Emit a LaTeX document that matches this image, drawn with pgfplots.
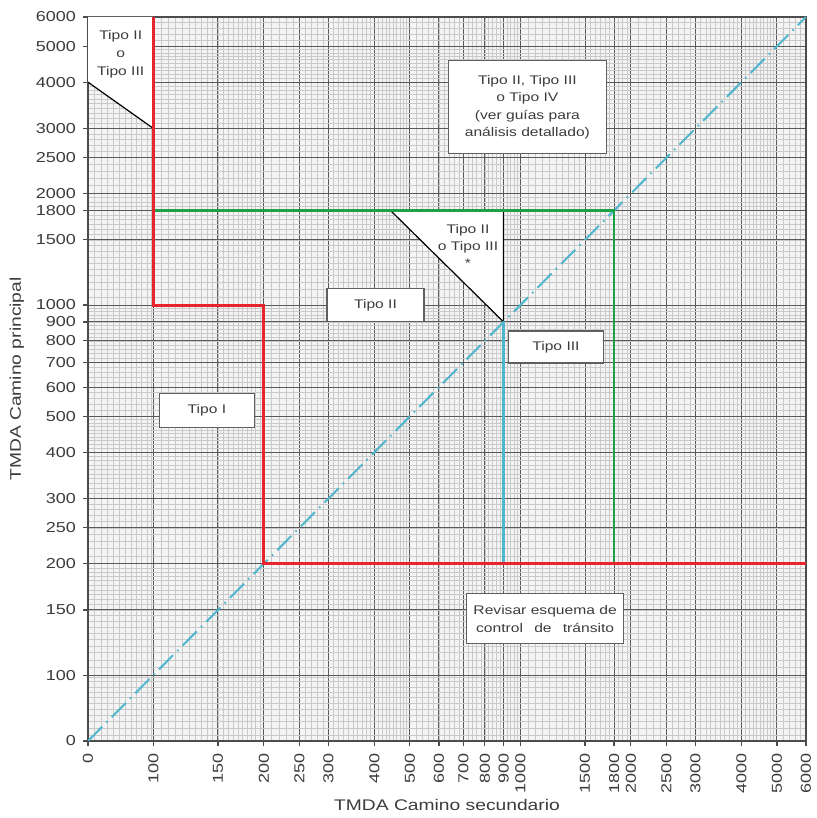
\documentclass[border=0pt]{standalone}
\usepackage{fontspec}
\setmainfont[FakeStretch=1.25]{Liberation Sans}
\usepackage{pgfplots}
\pgfplotsset{compat=1.18}
\definecolor{rl}{RGB}{232,36,44}
\definecolor{gl}{RGB}{30,160,70}
\definecolor{cl}{RGB}{80,182,205}
\definecolor{bx}{RGB}{95,95,95}
\definecolor{tx}{RGB}{60,60,60}
\begin{document}
\begin{tikzpicture}[box/.style={draw=bx, line width=0.6pt, fill=white, inner sep=2pt, align=center, text=tx, font=\fontsize{6.25}{8.75}\selectfont}]
\begin{axis}[name=ax, xmode=log, ymode=log, scale only axis, width=359pt, height=362pt,
 xmin=66.4, xmax=6000, ymin=66.4, ymax=6000,
 /pgf/number format/assume math mode=true,
 xtick={66.4,100,150,200,250,300,400,500,600,700,800,900,1000,1500,1800,2000,2500,3000,4000,5000,6000},
 xticklabels={0,100,150,200,250,300,400,500,600,700,800,900,1000,1500,1800,2000,2500,3000,4000,5000,6000},
 ytick={66.4,100,150,200,250,300,400,500,600,700,800,900,1000,1500,1800,2000,2500,3000,4000,5000,6000},
 yticklabels={0,100,150,200,250,300,400,500,600,700,800,900,1000,1500,1800,2000,2500,3000,4000,5000,6000},
 minor xtick={69,72,...,99,105,110,...,195,210,220,...,490,520,540,...,980,1050,1100,...,1950,2100,2200,...,4900,5200,5400,5600,5800},
 minor ytick={69,72,...,99,105,110,...,195,210,220,...,490,520,540,...,980,1050,1100,...,1950,2100,2200,...,4900,5200,5400,5600,5800},
 grid=both,
 major grid style={gray!70!black, line width=0.5pt},
 minor grid style={gray!42, line width=0.25pt},
 axis background/.style={fill=gray!9},
 axis line style={gray!60!black, line width=1pt},
 tick style={gray!60!black, line width=0.6pt},
 major tick length=2.5pt, minor tick length=0pt,
 tick align=outside, xtick pos=left, ytick pos=left,
 xticklabel style={rotate=90, anchor=east, text=tx, font=\fontsize{7.2}{8}\selectfont},
 yticklabel style={text=tx, font=\fontsize{7.2}{8}\selectfont},
 xlabel={TMDA Camino secundario}, ylabel={TMDA Camino principal},
 label style={font=\fontsize{7.7}{9}\selectfont, text=tx},
 xlabel style={at={(axis description cs:0.5,-0.0884)}, anchor=center},
 ylabel style={at={(axis description cs:-0.099,0.5)}, anchor=center},
]
\addplot[fill=white, draw=none] coordinates {(66.4,4000) (100,3000) (100,6000) (66.4,6000)} --cycle;
\addplot[black, line width=0.6pt] coordinates {(66.4,4000) (100,3000)};
\addplot[fill=white, draw=none] coordinates {(443,1800) (900,1800) (900,900)} --cycle;
\addplot[black, line width=0.6pt] coordinates {(443,1800) (900,900) (900,1800)};
\addplot[cl, line width=1pt, dash pattern=on 10pt off 3pt on 0.8pt off 3pt] coordinates {(66.4,66.4) (6000,6000)};
\addplot[cl, line width=1.3pt] coordinates {(900,900) (900,200)};
\addplot[gl, line width=1.4pt] coordinates {(100,1800) (1800,1800) (1800,200)};
\addplot[rl, line width=1.5pt] coordinates {(100,6000) (100,1000) (200,1000) (200,200) (6000,200)};
\node[box, minimum width=47.5pt, minimum height=17pt] at (axis cs:140,518) {Tipo I};
\node[box, minimum width=48.5pt, minimum height=16.5pt] at (axis cs:403,1000) {Tipo II};
\node[box, minimum width=47.5pt, minimum height=16pt] at (axis cs:1250,770) {Tipo III};
\node[box, minimum width=79pt, minimum height=46.5pt] at (axis cs:1045,3420) {Tipo II, Tipo III\\o Tipo IV\\(ver guías para\\análisis detallado)};
\node[box, minimum width=78.5pt, minimum height=25pt] at (axis cs:1168,142) {Revisar esquema de\\control\hspace{0.9em}de\hspace{0.9em}tránsito};
\node[align=center, text=tx, font=\fontsize{6.25}{8.5}\selectfont] at (axis cs:720,1445) {Tipo II\\o Tipo III\\*};
\node[align=center, text=tx, font=\fontsize{6.25}{9}\selectfont] at (axis cs:81.5,4770) {Tipo II\\o\\Tipo III};
\end{axis}
\pgfresetboundingbox
\path ([shift={(-44pt,-38.5pt)}]ax.south west) rectangle ([shift={(5pt,8.5pt)}]ax.north east);
\end{tikzpicture}
\end{document}
